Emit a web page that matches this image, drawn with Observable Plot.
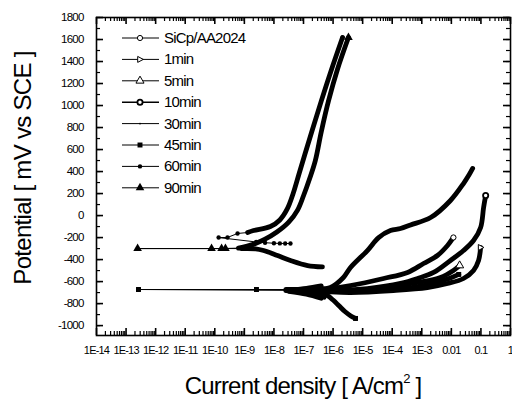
<!DOCTYPE html>
<html><head><meta charset="utf-8">
<script src="https://cdn.jsdelivr.net/npm/d3@7"></script>
<script src="https://cdn.jsdelivr.net/npm/@observablehq/plot@0.6"></script>
<style>
body{margin:0;background:#fff;}
#chart svg text{font-family:"Liberation Sans",Arial,sans-serif;}
.tick-lab text{letter-spacing:-0.8px;}
</style>
</head><body><div id="chart"></div>
<script>
// ---------- axis ticks ----------
const xTickValues = [1e-14,1e-13,1e-12,1e-11,1e-10,1e-9,1e-8,1e-7,1e-6,1e-5,1e-4,1e-3,0.01,0.1,1];
const xTickLabels = ["1E-14","1E-13","1E-12","1E-11","1E-10","1E-9","1E-8","1E-7","1E-6","1E-5","1E-4","1E-3","0.01","0.1","1"];
const yTickValues = [-1000,-800,-600,-400,-200,0,200,400,600,800,1000,1200,1400,1600,1800];
const seriesNames = ["SiCp/AA2024","1min","5min","10min","30min","45min","60min","90min"];

// ---------- data: [log10(current density A/cm2), potential mV] ----------
// SiCp/AA2024
const sic_cath = [[-6.3,-742],[-6.8,-712],[-7.3,-690],[-7.6,-683]];
const sic_dip  = [];
const sic_anod = [[-7.4,-680],[-6.6,-672],[-6.09,-663],[-5.41,-636],[-4.29,-572],[-3.48,-517],[-2.94,-436],[-2.47,-363],[-2.13,-272],[-1.93,-199]];
// 1min
const m1_cath = [[-6.4,-728],[-6.9,-700],[-7.4,-686]];
const m1_dip  = [];
const m1_anod = [[-7.3,-682],[-6.4,-690],[-5.41,-699],[-3.96,-681],[-2.81,-654],[-2.13,-617],[-1.59,-572],[-1.25,-499],[-1.08,-408],[-1.01,-290]];
// 5min
const m5_cath = [[-6.4,-752],[-6.9,-715],[-7.5,-688]];
const m5_dip  = [];
const m5_anod = [[-7.3,-679],[-6.5,-680],[-5.41,-681],[-4.29,-654],[-3.14,-608],[-2.37,-563],[-1.93,-499],[-1.72,-454]];
// 10min
const m10_cath = [[-6.4,-640],[-6.9,-662],[-7.4,-678]];
const m10_dip  = [];
const m10_anod = [[-7.2,-676],[-6.5,-678],[-5.99,-681],[-4.84,-663],[-3.72,-617],[-3.14,-572],[-2.6,-517],[-2.03,-408],[-1.59,-318],[-1.25,-227],[-1.01,-108],[-0.91,73],[-0.84,182]];
// 30min
const m30_cath = [[-6.4,-660],[-6.9,-670],[-7.4,-678]];
const m30_dip  = [];
const m30_anod = [[-7.3,-674],[-6.6,-668],[-6.09,-654],[-5.65,-563],[-5.41,-472],[-4.84,-318],[-4.46,-200],[-4.06,-136],[-3.72,-118],[-3.38,-85],[-2.7,-18],[-2.03,137],[-1.59,291],[-1.4,370],[-1.28,428]];
// 45min
const m45_cath = [[-5.24,-935],[-5.4,-912],[-5.6,-872],[-5.8,-820],[-6.0,-768],[-6.2,-725],[-6.45,-698],[-6.9,-686],[-7.5,-680]];
const m45_dip  = [[-12.58,-672],[-8.59,-672]];
const m45_anod = [[-7.6,-672],[-6.8,-672],[-6.0,-690],[-5.2,-690],[-4.3,-676],[-3.3,-652],[-2.6,-615],[-2.1,-575],[-1.75,-535]];
// 60min (cathodic part sparse)
const m60_cath = [[-7.44,-254],[-7.62,-254],[-7.8,-253],[-8.0,-251],[-8.3,-247],[-8.6,-240]];
const m60_dip  = [[-9.87,-200],[-9.57,-199],[-9.23,-163]];
const m60_anod = [[-8.89,-154],[-8.69,-136],[-8.12,-100],[-7.8,-40],[-7.55,60],[-7.35,200],[-7.15,380],[-6.95,560],[-6.7,780],[-6.4,1040],[-6.05,1330],[-5.68,1618]];
// 90min
const m90_cath = [[-6.36,-466],[-6.86,-454],[-7.44,-408],[-7.88,-363],[-8.35,-317],[-8.62,-302],[-9.1,-300]];
const m90_dip  = [[-12.61,-300],[-10.11,-300],[-9.77,-300],[-9.64,-299]];
const m90_anod = [[-9.2,-296],[-8.7,-262],[-8.3,-215],[-7.9,-150],[-7.5,-60],[-7.2,50],[-7.0,180],[-6.8,330],[-6.6,500],[-6.4,760],[-6.15,1046],[-5.85,1330],[-5.48,1618]];

const groups = [
  [sic_cath, sic_dip, sic_anod],
  [m1_cath, m1_dip, m1_anod],
  [m5_cath, m5_dip, m5_anod],
  [m10_cath, m10_dip, m10_anod],
  [m30_cath, m30_dip, m30_anod],
  [m45_cath, m45_dip, m45_anod],
  [m60_cath, m60_dip, m60_anod],
  [m90_cath, m90_dip, m90_anod]
];
const sparseCath = [6];      // series whose cathodic branch is drawn with few points
const startMarked = [5];     // series whose first cathodic point shows a marker

// ---------- symbols ----------
const triRight = {draw(ctx, size){ const s = Math.sqrt(size)*0.62; ctx.moveTo(s,0); ctx.lineTo(-s*0.7,-s*0.9); ctx.lineTo(-s*0.7,s*0.9); ctx.closePath(); }};
const sym = [
  {symbol:"circle", fill:"white", sw:1, r:2.6},
  {symbol:triRight, fill:"white", sw:1, r:3},
  {symbol:"triangle", fill:"white", sw:1, r:3},
  {symbol:"circle", fill:"white", sw:1.8, r:2.6},
  {symbol:"circle", fill:"black", sw:0, r:0.9},
  {symbol:"square", fill:"black", sw:0, r:2.8},
  {symbol:"circle", fill:"black", sw:0, r:2.2},
  {symbol:"triangle", fill:"black", sw:0, r:3.2}
];

// ---------- tables ----------
const thick = [], thin = [], dots = [];
groups.forEach(([cath, dip, anod], si) => {
  const sparse = sparseCath.includes(si);
  cath.forEach(p => (sparse ? thin : thick).push({k: si+"c", x: 10**p[0], y: p[1]}));
  if (sparse) cath.forEach(p => dots.push({s: si, x: 10**p[0], y: p[1]}));
  anod.forEach(p => thick.push({k: si+"a", x: 10**p[0], y: p[1]}));
  const thinPts = [cath[cath.length-1], ...dip, anod[0]];
  thinPts.forEach(p => thin.push({k: si+"d", x: 10**p[0], y: p[1]}));
  dip.forEach(p => dots.push({s: si, x: 10**p[0], y: p[1]}));
  if (startMarked.includes(si)) dots.push({s: si, x: 10**cath[0][0], y: cath[0][1]});
  dots.push({s: si, x: 10**anod[anod.length-1][0], y: anod[anod.length-1][1]});
});

const W = 512, H = 404, mT = 17, mB = 69, mL = 96, mR = 2;
const innerH = H - mT - mB, innerW = W - mL - mR;
const xMinor = [];
for (let e = -14; e < 0; e++) for (let m = 2; m <= 9; m++) xMinor.push(m * 10**e);
const yMinor = d3.range(-1000, 1801, 100);

const dotMarks = sym.map((s, i) => Plot.dot(dots.filter(d => d.s === i), {
  x: "x", y: "y", symbol: s.symbol, r: s.r, fill: s.fill, stroke: s.sw ? "black" : "none", strokeWidth: s.sw
}));

const plot = Plot.plot({
  width: W, height: H,
  marginLeft: mL, marginRight: mR, marginTop: mT, marginBottom: mB,
  x: {type: "log", domain: [1e-14, 1], axis: null},
  y: {domain: [-1090, 1800], axis: null},
  style: {background: "white", color: "black", overflow: "visible"},
  marks: [
    Plot.axisX({ticks: xTickValues, tickFormat: d => xTickLabels[xTickValues.indexOf(d)], tickSize: 0, tickPadding: 11, fontSize: 11, label: null, className: "tick-lab"}),
    Plot.axisY({ticks: yTickValues, tickFormat: d => String(d), tickSize: 0, tickPadding: 13, fontSize: 11.5, label: null, className: "tick-lab"}),
    // inward ticks on all four sides
    Plot.tickX(xMinor, {x: d => d, insetTop: innerH - 4, stroke: "black", strokeWidth: 1.2}),
    Plot.tickX(xMinor, {x: d => d, insetBottom: innerH - 4, stroke: "black", strokeWidth: 1.2}),
    Plot.tickX(xTickValues, {x: d => d, insetTop: innerH - 7, stroke: "black", strokeWidth: 1.6}),
    Plot.tickX(xTickValues, {x: d => d, insetBottom: innerH - 7, stroke: "black", strokeWidth: 1.6}),
    Plot.tickY(yMinor, {y: d => d, insetRight: innerW - 4, stroke: "black", strokeWidth: 1.2}),
    Plot.tickY(yMinor, {y: d => d, insetLeft: innerW - 4, stroke: "black", strokeWidth: 1.2}),
    Plot.tickY(yTickValues, {y: d => d, insetRight: innerW - 7, stroke: "black", strokeWidth: 1.6}),
    Plot.tickY(yTickValues, {y: d => d, insetLeft: innerW - 7, stroke: "black", strokeWidth: 1.6}),
    // curves
    Plot.line(thin, {x: "x", y: "y", z: "k", stroke: "black", strokeWidth: 1, curve: "linear"}),
    Plot.line(thick, {x: "x", y: "y", z: "k", stroke: "black", strokeWidth: 4.8, strokeLinejoin: "round", strokeLinecap: "round", curve: "catmull-rom"}),
    ...dotMarks,
    Plot.frame({stroke: "black", strokeWidth: 1.6})
  ]
});

document.getElementById("chart").appendChild(plot);
const svg = d3.select(plot);

// ---------- titles & legend ----------
svg.append("text")
  .attr("transform", "translate(31,168) rotate(-90)")
  .attr("text-anchor", "middle").attr("font-size", 24).attr("letter-spacing", "-0.7px")
  .text("Potential [ mV vs SCE ]");
const xt = svg.append("text").attr("x", 303).attr("y", 394)
  .attr("text-anchor", "middle").attr("font-size", 24).attr("letter-spacing", "-0.8px");
xt.append("tspan").text("Current density [ A/cm");
xt.append("tspan").attr("dy", -11).attr("font-size", 13).text("2");
xt.append("tspan").attr("dy", 11).text(" ]");

const leg = svg.append("g");
seriesNames.forEach((name, i) => {
  const yy = 38 + i * 21.4;
  leg.append("line").attr("x1", 122).attr("x2", 159).attr("y1", yy).attr("y2", yy)
    .attr("stroke", "black").attr("stroke-width", i === 3 ? 1.5 : 1);
  const s = sym[i];
  const symType = typeof s.symbol === "string"
    ? ({circle: d3.symbolCircle, triangle: d3.symbolTriangle, square: d3.symbolSquare})[s.symbol]
    : s.symbol;
  const size = Math.PI * s.r * s.r;
  leg.append("path").attr("d", d3.symbol(symType, size)())
    .attr("transform", `translate(140,${yy})`)
    .attr("fill", s.fill).attr("stroke", s.sw ? "black" : "none").attr("stroke-width", s.sw);
  leg.append("text").attr("x", 164).attr("y", yy + 5).attr("font-size", 15)
    .attr("text-anchor", "start").attr("letter-spacing", "-0.8px").text(name);
});
</script>
</body></html>
